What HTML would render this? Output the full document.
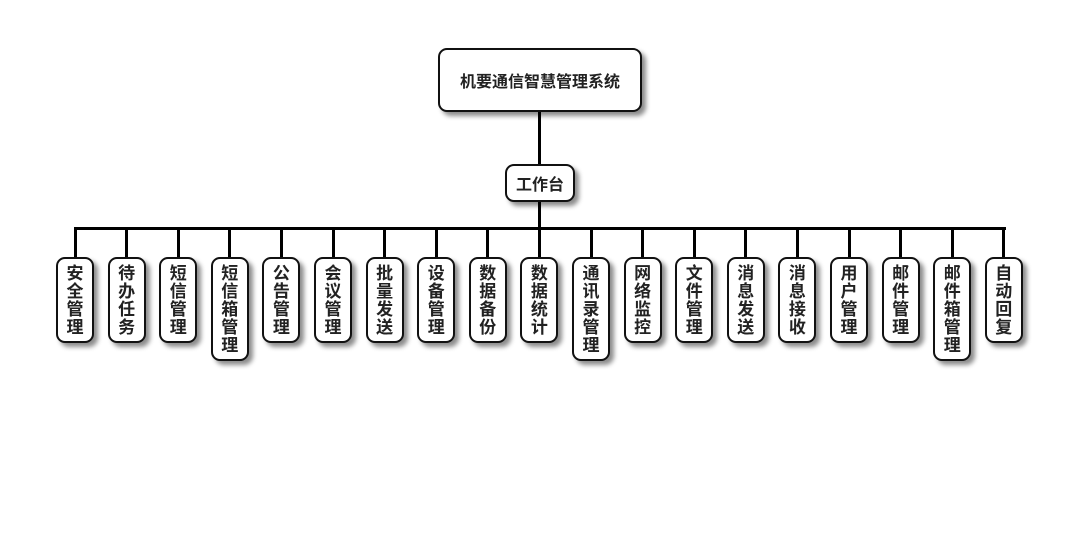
<!DOCTYPE html>
<html><head><meta charset="utf-8"><style>
body{margin:0;width:1080px;height:560px;background:#fff;position:relative;overflow:hidden;font-family:"Liberation Sans","Noto Sans CJK SC",sans-serif;font-weight:bold;color:#222}
.b{position:absolute;box-sizing:border-box;border:2px solid #111;border-radius:9px;background:#fff;box-shadow:4px 4px 5px rgba(0,0,0,.45);display:flex;align-items:center;justify-content:center;text-align:center}
.c{width:38px;top:257px;height:86px;font-size:17px;line-height:18px;align-items:flex-start;padding-top:6px}
.c.t{height:104px}
.l{position:absolute;background:#000}
</style></head><body>
<div class="l" style="left:538px;top:112px;width:3px;height:52px"></div>
<div class="l" style="left:538px;top:202px;width:3px;height:27px"></div>
<div class="l" style="left:74px;top:227px;width:932px;height:3px"></div>
<div class="b" style="left:438px;top:48px;width:204px;height:64px;font-size:16px">机要通信智慧管理系统</div>
<div class="b" style="left:505px;top:164px;width:70px;height:38px;font-size:16px">工作台</div>
<div id="k"></div>
<script>
var n=["安全管理","待办任务","短信管理","短信箱管理","公告管理","会议管理","批量发送","设备管理","数据备份","数据统计","通讯录管理","网络监控","文件管理","消息发送","消息接收","用户管理","邮件管理","邮件箱管理","自动回复"];
var h="";
for(var i=0;i<19;i++){var x=75+i*51.6;
h+='<div class="l" style="left:'+(x-1.5)+'px;top:228px;width:3px;height:30px"></div>';
h+='<div class="b c'+(n[i].length>4?' t':'')+'" style="left:'+(x-19)+'px">'+n[i].split('').join('<br>')+'</div>';}
document.getElementById('k').innerHTML=h;
</script>
</body></html>
